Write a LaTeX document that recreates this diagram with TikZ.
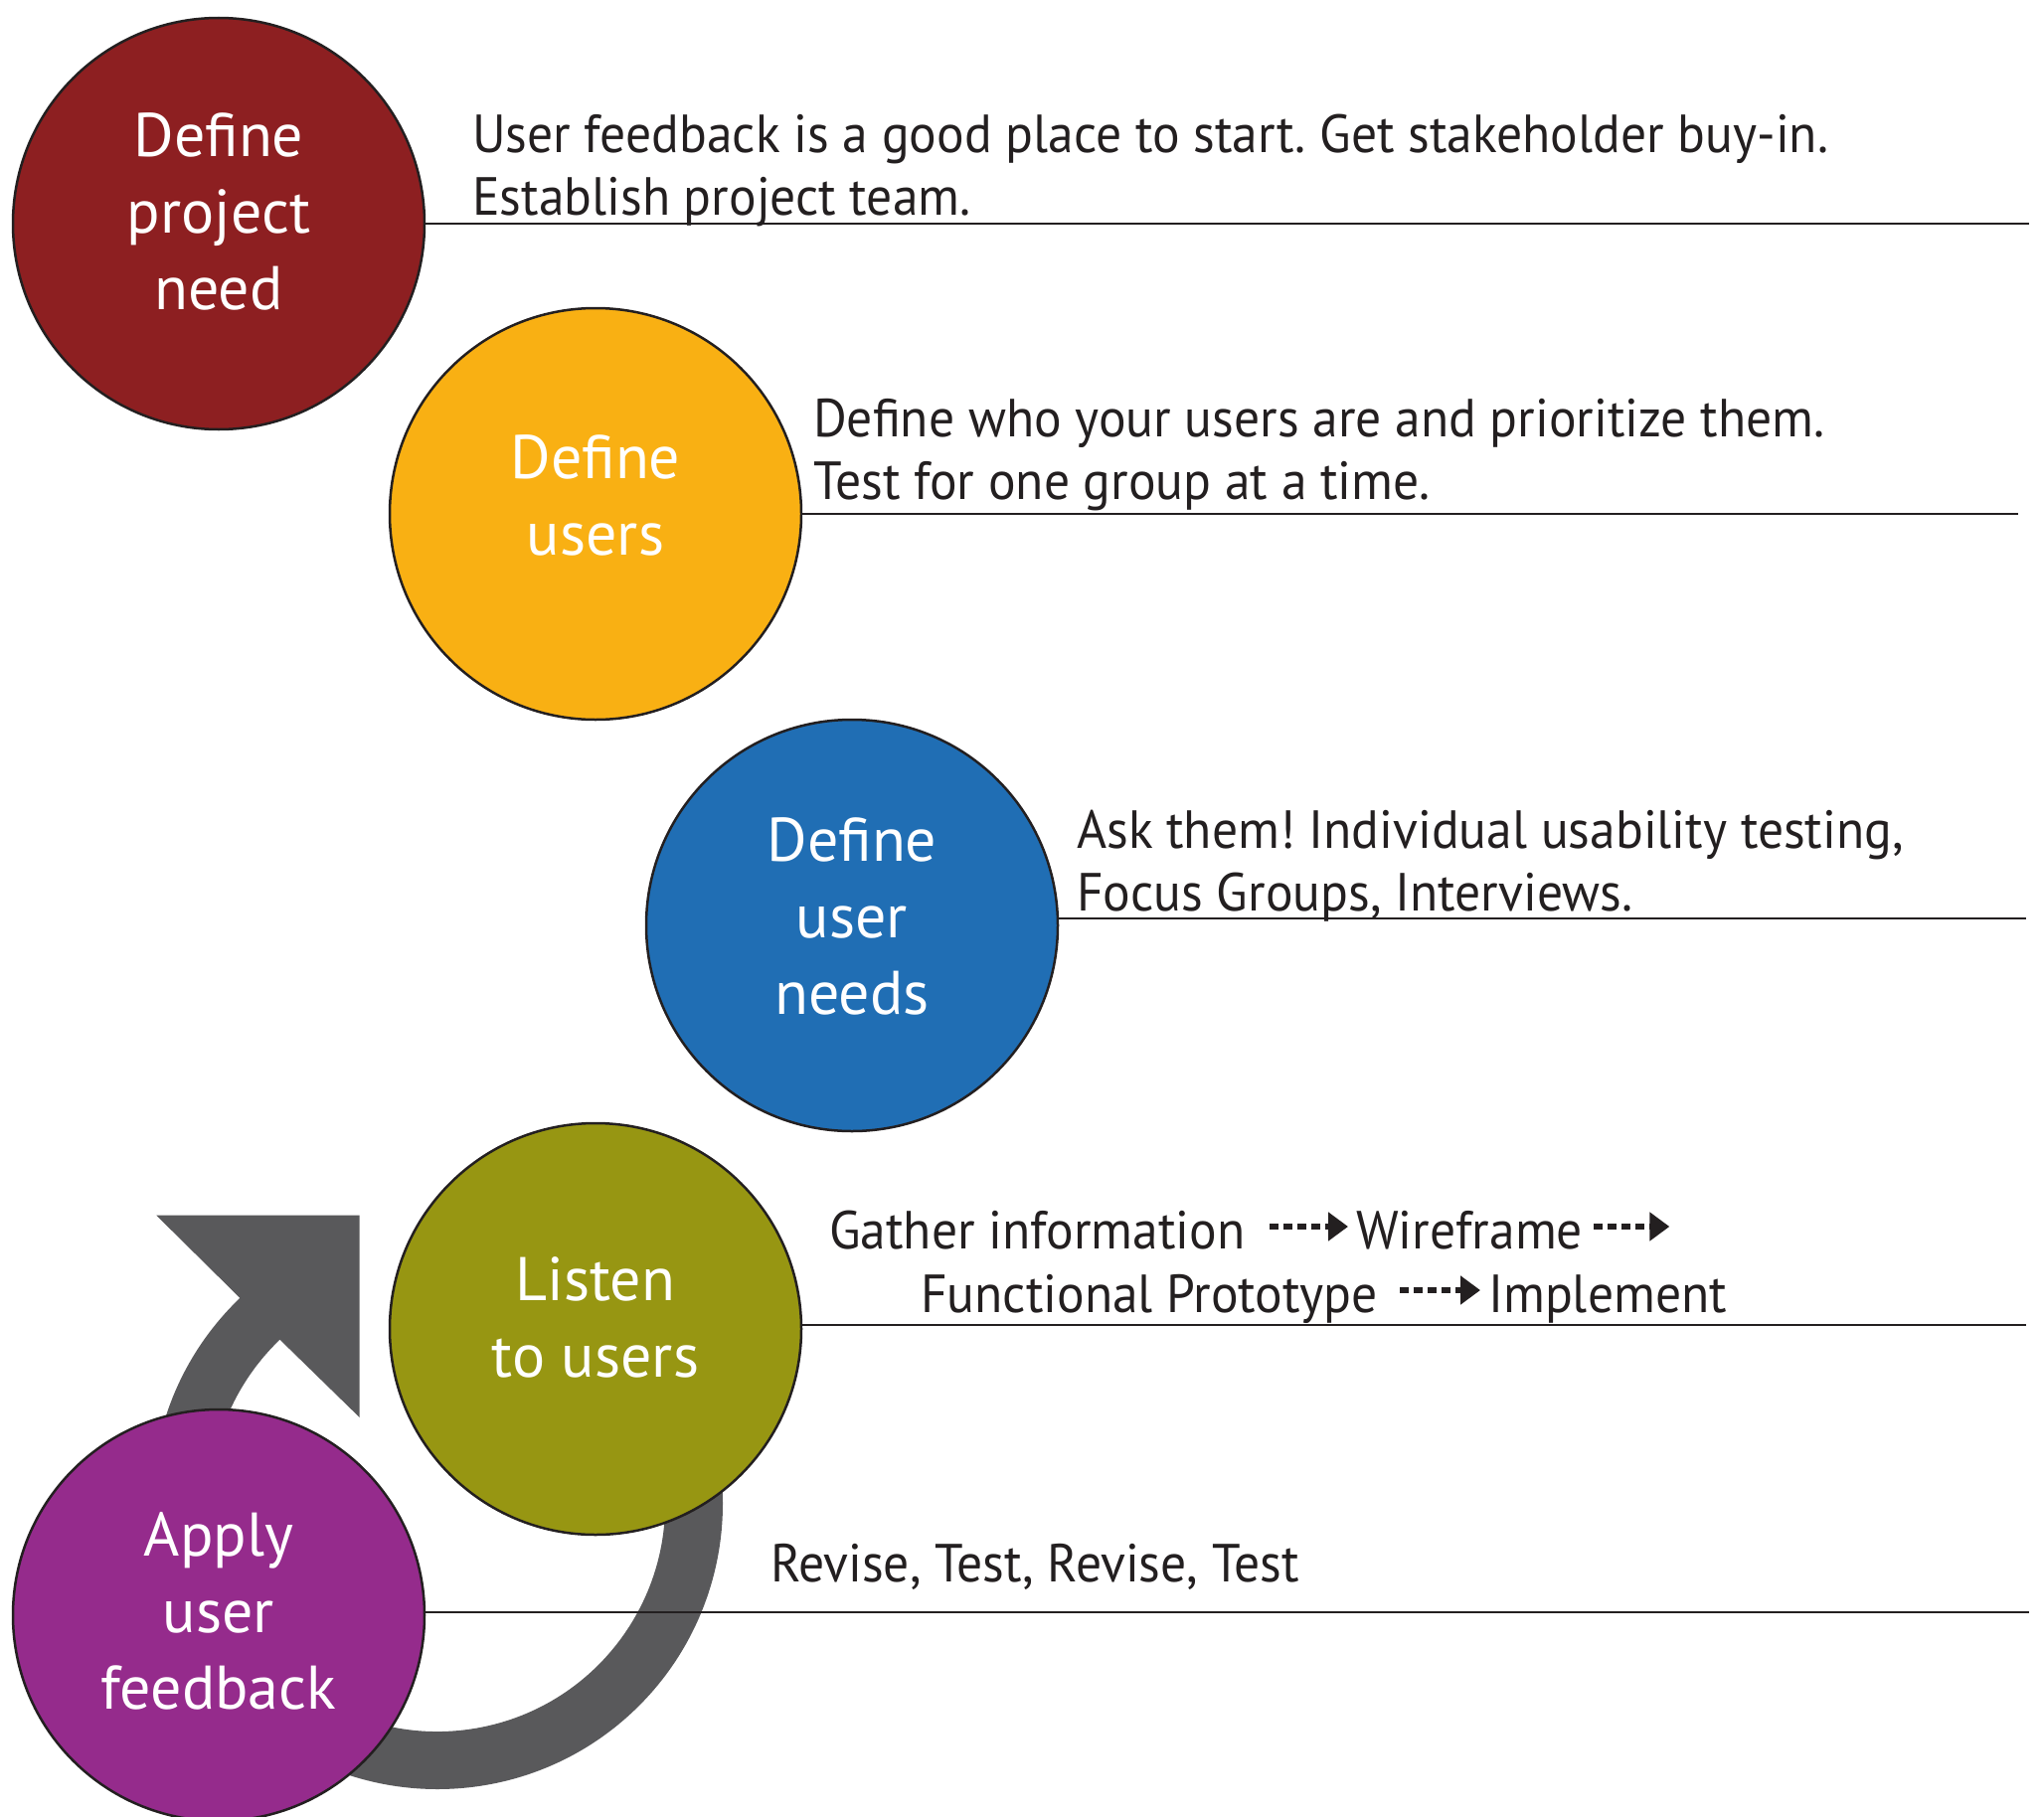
\documentclass[tikz,border=0pt]{standalone}
\usepackage{fontspec}
\setmainfont{PT Sans}
\newfontfamily\notefont[FakeStretch=0.955]{PT Sans}
\usetikzlibrary{calc,arrows.meta}
\definecolor{ink}{HTML}{231F20}
\definecolor{needred}{HTML}{8D1F21}
\definecolor{useryellow}{HTML}{F9B013}
\definecolor{needblue}{HTML}{206EB4}
\definecolor{listenolive}{HTML}{979612}
\definecolor{applypurple}{HTML}{952B8C}
\definecolor{loopgray}{HTML}{59595B}
\frenchspacing
\begin{document}
\begin{tikzpicture}[x=1pt,y=-1pt,
  stage/.style={circle, draw=ink, line width=2.5pt, minimum size=414pt, inner sep=0pt},
  stagetext/.style={text=white, align=center, inner sep=0pt,
    font=\fontsize{62}{77}\selectfont},
  note/.style={anchor=base west, inner sep=0pt, text=ink,
    font=\notefont\fontsize{54}{63.5}\selectfont},
  rule/.style={draw=ink, line width=2.4pt},
  flow/.style={ink, line width=6.5pt, dash pattern=on 9pt off 5pt,
    -{Triangle[length=20pt,width=28pt]}}]
\useasboundingbox (0,0) rectangle (2056,1828);

% feedback loop arrow, behind the last two stages
\coordinate (hub) at (440,1513);
\fill[loopgray] (361.7,1222.7) -- (157.3,1222.7)
  -- ($(hub)+(226.2:287)$) arc[start angle=226.2, end angle=-10, radius=287]
  -- ($(hub)+(-10:229)$) arc[start angle=-10, end angle=226.2, radius=229]
  -- (361.7,1426) -- cycle;

% stages
\node[stage, fill=needred]     (c1) at (220,225)  {};
\node[stage, fill=useryellow]  (c2) at (599,517)  {};
\node[stage, fill=needblue]    (c3) at (857,931)  {};
\node[stage, fill=listenolive] (c4) at (599,1337) {};
\node[stage, fill=applypurple] (c5) at (220,1625) {};

\node[stagetext] (s1) at ($(c1)+(0,-12)$) {Define\\project\\need};
\node[stagetext] (s2) at ($(c2)+(0,-19)$) {Define\\users};
\node[stagetext] (s3) at ($(c3)+(0,-9)$)  {Define\\user\\needs};
\node[stagetext] (s4) at ($(c4)+(0,-12)$) {Listen\\to users};
\node[stagetext] (s5) at ($(c5)+(0,-4)$)  {Apply\\user\\feedback};

% rules leading out of each stage
\coordinate (e1) at (2041,224.9);
\coordinate (e2) at (2030,517);
\coordinate (e3) at (2038,924);
\coordinate (e4) at (2038,1333);
\coordinate (e5) at (2041,1622);
\draw[rule] (c1.east |- e1) -- (e1);
\draw[rule] (c2.east |- e2) -- (e2);
\draw[rule] (c3.east |- e3) -- (e3);
\draw[rule] (c4.east |- e4) -- (e4);
\draw[rule] (c5.east |- e5) -- (e5);

% notes
\node[note] (n1a) at (475,153.3) {User feedback is a good place to start. Get stakeholder buy-in.};
\node[note] (n1b) at (475,216.7) {Establish project team.};
\node[note] (n2a) at (818,439) {Define who your users are and prioritize them.};
\node[note] (n2b) at (818,502) {Test for one group at a time.};
\node[note] (n3a) at (1083,853.5) {Ask them! Individual usability testing,};
\node[note] (n3b) at (1083,916.5) {Focus Groups, Interviews.};
\node[note] (g)  at (834,1256)  {Gather information};
\node[note] (w)  at (1364,1256) {Wireframe};
\node[note] (f)  at (926,1320)  {Functional Prototype};
\node[note] (im) at (1497,1320) {Implement};
\node[note] (r)  at (775,1591)  {Revise, Test, Revise, Test};

% process flow inside the listening note
\draw[flow] ($(g.base east)+(25,-22)$) -- ($(w.base west)+(-8,-22)$);
\coordinate (wnext) at ($(w.base east)+(87,-22)$);
\draw[flow] ($(w.base east)+(11,-22)$) -- (wnext);
\draw[flow] ($(f.base east)+(22,-22)$) -- ($(im.base west)+(-8,-22)$);
\end{tikzpicture}
\end{document}
